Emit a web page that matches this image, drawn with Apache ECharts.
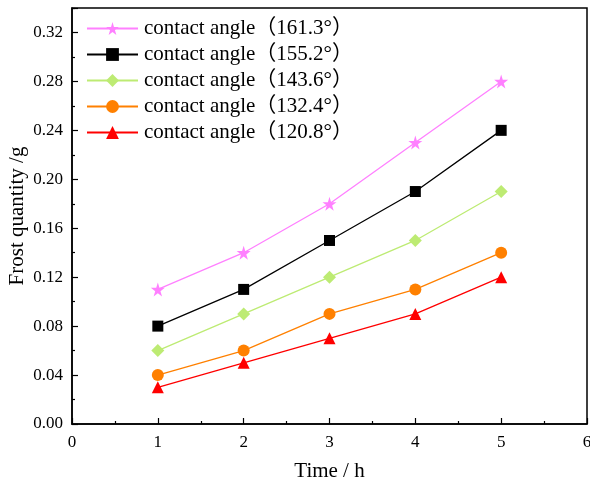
<!DOCTYPE html>
<html><head><meta charset="utf-8">
<script src="https://cdn.jsdelivr.net/npm/echarts@6/dist/echarts.min.js"></script>
<style>html,body{margin:0;padding:0;background:#fff}#c{width:590px;height:486px}</style>
</head><body><div id="c"></div>
<script>
const times = [1, 2, 3, 4, 5];
const seriesNames = ['contact angle（161.3°）','contact angle（155.2°）','contact angle（143.6°）','contact angle（132.4°）','contact angle（120.8°）'];
const s161 = [0.11, 0.14, 0.18, 0.23, 0.28];
const s155 = [0.08, 0.11, 0.15, 0.19, 0.24];
const s143 = [0.06, 0.09, 0.12, 0.15, 0.19];
const s132 = [0.04, 0.06, 0.09, 0.11, 0.14];
const s120 = [0.03, 0.05, 0.07, 0.09, 0.12];
const allValues = [s161, s155, s143, s132, s120];
const colors = ['#FF80FF', '#000000', '#BDEB73', '#FF8000', '#FF0000'];
const star = 'path://M50,0 L61,35 L98,35 L68,57 L79,91 L50,70 L21,91 L32,57 L2,35 L39,35 Z';
const symbols = [star, 'rect', 'diamond', 'circle', 'triangle'];
const sizes = [14, 11, 13, 12, 12];

const font = '"Liberation Serif","Noto Sans CJK SC",serif';
const chart = echarts.init(document.getElementById('c'));
const tick = {show: true, inside: true, length: 6, lineStyle: {color: '#000', width: 1.2}};
const minor = {show: true, splitNumber: 2, length: 3, lineStyle: {color: '#000', width: 1.2}};
chart.setOption({
  animation: false,
  textStyle: {fontFamily: font},
  grid: {left: 72, right: 3, top: 8, bottom: 62, outerBoundsMode: 'none', containLabel: false,
    show: true, borderColor: '#000', borderWidth: 1.5, backgroundColor: 'transparent'},
  legend: {
    left: 81, top: 13, orient: 'vertical', itemGap: 5, itemWidth: 51, itemHeight: 16,
    textStyle: {fontFamily: font, fontSize: 21, color: '#000', padding: [0, 0, 0, 1]},
    data: seriesNames
  },
  xAxis: {
    type: 'value', min: 0, max: 6, interval: 1,
    name: 'Time / h', nameLocation: 'middle', nameGap: 37, nameMoveOverlap: false,
    nameTextStyle: {fontFamily: font, fontSize: 21, color: '#000'},
    axisLine: {show: true, lineStyle: {color: '#000', width: 1.5}},
    axisTick: tick, minorTick: minor,
    axisLabel: {fontFamily: font, fontSize: 17, color: '#000', margin: 10},
    splitLine: {show: false}
  },
  yAxis: {
    type: 'value', min: 0, max: 0.34, interval: 0.04,
    name: 'Frost quantity /g', nameLocation: 'middle', nameGap: 44, nameMoveOverlap: false,
    nameTextStyle: {fontFamily: font, fontSize: 21, color: '#000'},
    axisLine: {show: true, lineStyle: {color: '#000', width: 1.5}},
    axisTick: tick, minorTick: minor,
    axisLabel: {fontFamily: font, fontSize: 17, color: '#000', margin: 9, showMaxLabel: false,
      formatter: v => (Math.abs(v - 0.34) < 1e-9 ? '' : v.toFixed(2))},
    splitLine: {show: false}
  },
  series: seriesNames.map((n, i) => ({
    name: n, type: 'line',
    data: times.map((t, j) => [t, allValues[i][j]]),
    symbol: symbols[i], symbolSize: sizes[i],
    showAllSymbol: true,
    lineStyle: {color: colors[i], width: 1.3},
    itemStyle: {color: colors[i]}
  }))
});
</script></body></html>
